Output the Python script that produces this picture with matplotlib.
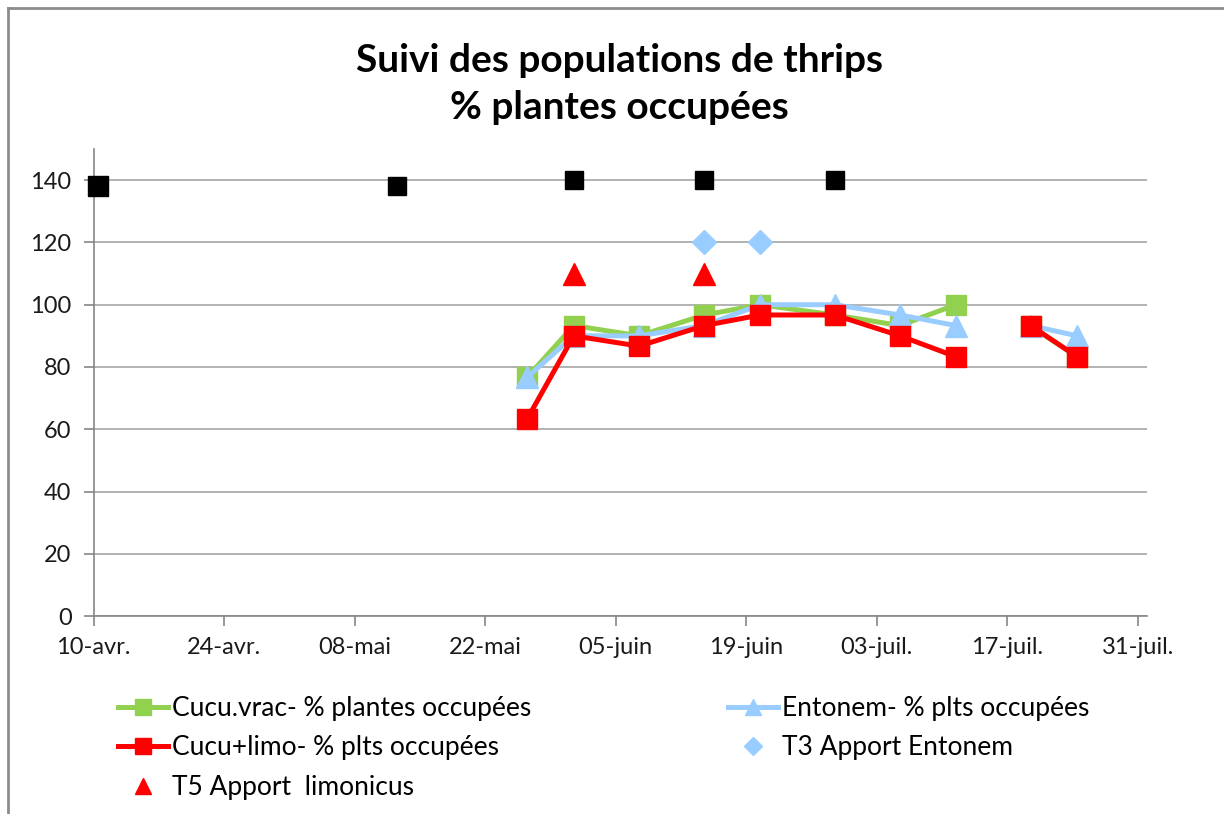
import matplotlib
matplotlib.use("Agg")
import matplotlib.pyplot as plt
from matplotlib.lines import Line2D
import numpy as np
from datetime import datetime, timedelta

plt.rcParams['font.family'] = ['Lato', 'DejaVu Sans']

# sampling dates (None in values = no reading, breaks the line)
dates = ["2013-05-26", "2013-05-31", "2013-06-07", "2013-06-14", "2013-06-20",
         "2013-06-28", "2013-07-05", "2013-07-11", "2013-07-15", "2013-07-19",
         "2013-07-24"]
cucu_vrac = [76.7, 93.3, 90.0, 96.7, 100.0, 96.7, 93.3, 100.0, None, 93.3, 83.3]
entonem = [76.7, 90.0, 90.0, 93.3, 100.0, 100.0, 96.7, 93.3, None, 93.3, 90.0]
cucu_limo = [63.3, 90.0, 86.7, 93.3, 96.7, 96.7, 90.0, 83.3, None, 93.3, 83.3]

# release markers
t3_dates = ["2013-06-14", "2013-06-20"]
t3_values = [120, 120]
t5_dates = ["2013-05-31", "2013-06-14"]
t5_values = [110, 110]
other_dates = ["2013-04-10", "2013-05-12", "2013-05-31", "2013-06-14", "2013-06-28"]
other_values = [138, 138, 140, 140, 140]

x_ticks = ["2013-04-10", "2013-04-24", "2013-05-08", "2013-05-22", "2013-06-05",
           "2013-06-19", "2013-07-03", "2013-07-17", "2013-07-31"]
x_labels = ["10-avr.", "24-avr.", "08-mai", "22-mai", "05-juin", "19-juin",
            "03-juil.", "17-juil.", "31-juil."]


def to_dt(lst, mid=True):
    # Excel date axis puts each point in the middle of its day
    off = timedelta(hours=12) if mid else timedelta(0)
    return [datetime.strptime(d, "%Y-%m-%d") + off for d in lst]


def to_arr(vals):
    return np.array([np.nan if v is None else v for v in vals], dtype=float)


GREEN = "#92D050"
RED = "#FF0000"
BLUE = "#99CCFF"
GRID = "#A6A6A6"
AXIS = "#868686"

fig = plt.figure(figsize=(12.24, 8.14), dpi=100)
ax = fig.add_axes([0.0766, 0.2432, 0.9371 - 0.0766, 0.5737])

d = to_dt(dates)
l1, = ax.plot(d, to_arr(cucu_vrac), color=GREEN, lw=3.6, marker="s", ms=15,
              mec=GREEN, label="Cucu.vrac- % plantes occupées", zorder=3)
l2, = ax.plot(d, to_arr(entonem), color=BLUE, lw=3.6, marker="^", ms=16,
              mec=BLUE, label="Entonem- % plts occupées", zorder=4)
l3, = ax.plot(d, to_arr(cucu_limo), color=RED, lw=3.6, marker="s", ms=15,
              mec=RED, label="Cucu+limo- % plts occupées", zorder=5)
l4, = ax.plot(to_dt(t3_dates), t3_values, ls="none", marker="D", ms=12,
              color=BLUE, label="T3 Apport Entonem", zorder=6)
l5, = ax.plot(to_dt(t5_dates), t5_values, ls="none", marker="^", ms=16,
              color=RED, label="T5 Apport  limonicus", zorder=6)
other_dt = to_dt(other_dates)
ax.plot(other_dt[:1], other_values[:1], ls="none", marker="s", ms=15,
        color="black", zorder=6, clip_on=False)
ax.plot(other_dt[1:], other_values[1:], ls="none", marker="s", ms=13.5,
        color="black", zorder=6)

ax.set_xlim(datetime(2013, 4, 10), datetime(2013, 8, 1))
ax.set_ylim(0, 150)
ax.set_yticks(range(0, 141, 20))
ax.set_xticks(to_dt(x_ticks, mid=False))
ax.set_xticklabels(x_labels)
ax.yaxis.grid(True, color=GRID, lw=1.2)
ax.set_axisbelow(True)
for s in ["top", "right"]:
    ax.spines[s].set_visible(False)
for s in ["left", "bottom"]:
    ax.spines[s].set_color(AXIS)
    ax.spines[s].set_linewidth(1.2)
ax.tick_params(axis="both", direction="out", length=7, width=1.2, color=AXIS,
               labelsize=17, labelcolor="#1a1a1a")
ax.tick_params(axis="x", pad=8)
ax.tick_params(axis="y", pad=9)

fig.text(0.506, 0.897, "Suivi des populations de thrips\n% plantes occupées",
         ha="center", va="center", fontsize=28, fontweight="bold",
         linespacing=1.42)

leg_kw = dict(frameon=False, fontsize=19, handlelength=1.9, markerscale=0.75,
              handletextpad=0.15, labelspacing=0.55, borderaxespad=0)
fig.legend(handles=[l1, l3, l5], loc="upper left",
           bbox_to_anchor=(0.088, 0.158), **leg_kw)
fig.legend(handles=[l2, l4], loc="upper left",
           bbox_to_anchor=(0.586, 0.158), **leg_kw)

# chart frame
fig.add_artist(Line2D([8 / 1224, 8 / 1224], [0, 1 - 8 / 814],
                      transform=fig.transFigure, color="#8c8c8c", lw=2))
fig.add_artist(Line2D([8 / 1224, 1], [1 - 8 / 814, 1 - 8 / 814],
                      transform=fig.transFigure, color="#8c8c8c", lw=2))

fig.savefig("out.png", dpi=100)
